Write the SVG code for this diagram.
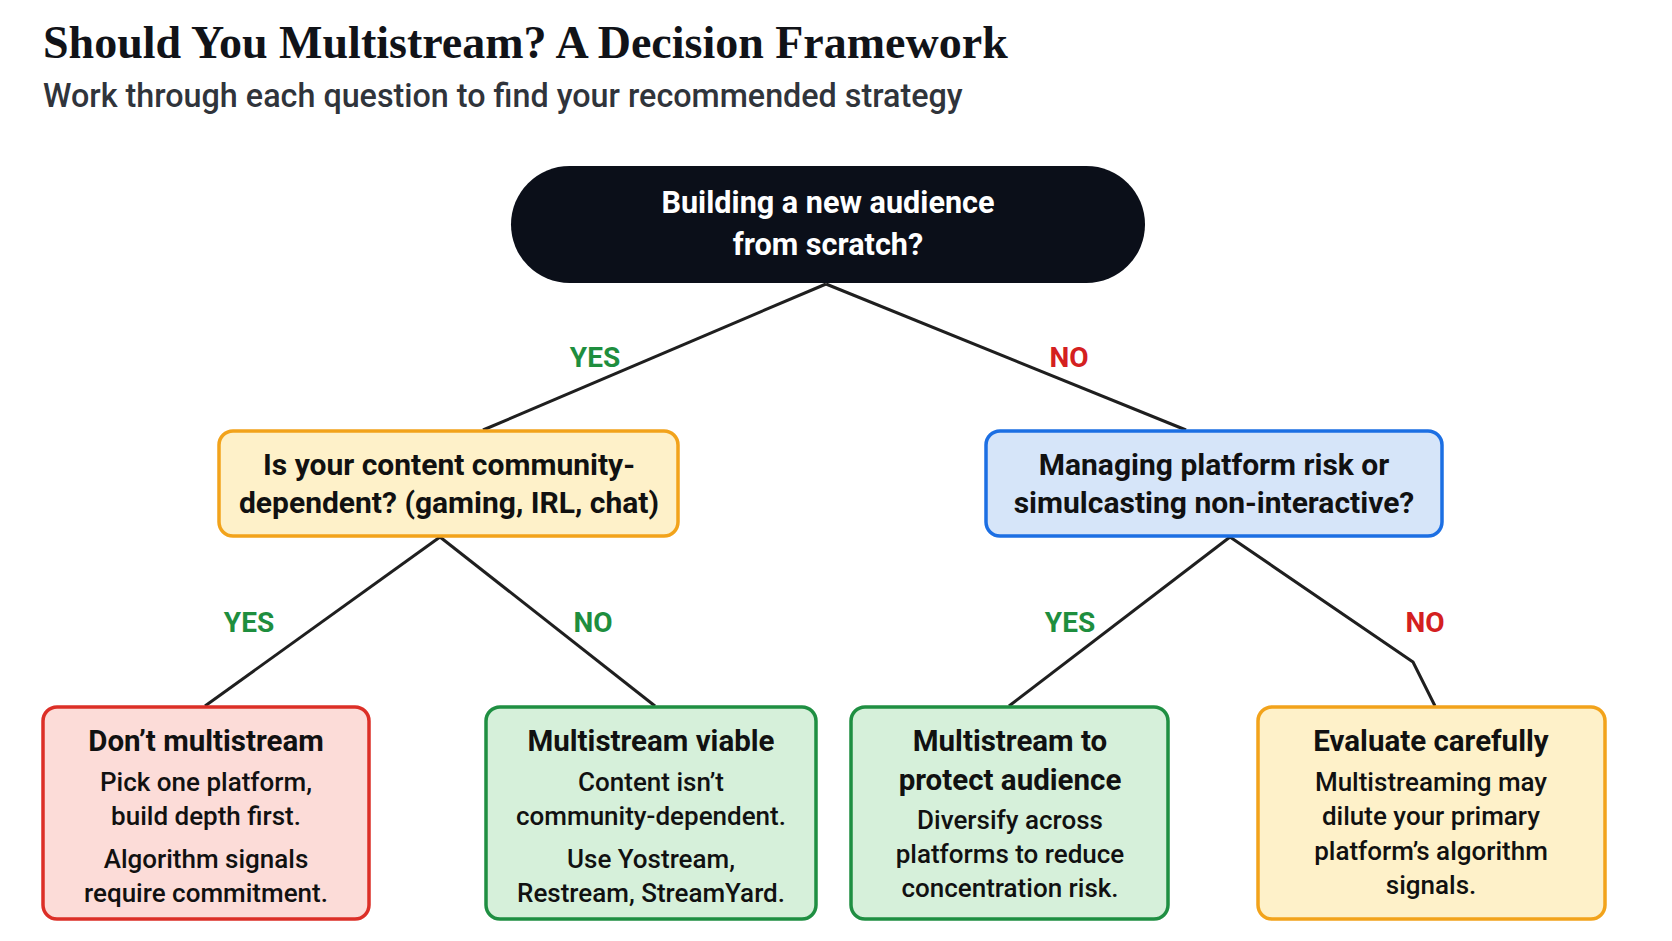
<svg xmlns="http://www.w3.org/2000/svg" width="1672" height="941" viewBox="0 0 1672 941">
  <style>
    .title { font-family: "Liberation Serif", "DejaVu Serif", serif; font-weight: 700; font-size: 46px; fill: #111318; }
    .subtitle { font-family: Roboto, "Liberation Sans", sans-serif; font-weight: 500; font-size: 32.3px; fill: #30343b; }
    .q { font-family: Roboto, "Liberation Sans", sans-serif; font-weight: 700; font-size: 30px; text-anchor: middle; }
    .qr { font-family: Roboto, "Liberation Sans", sans-serif; font-weight: 700; font-size: 30.6px; text-anchor: middle; fill: #ffffff; }
    .lt { font-family: Roboto, "Liberation Sans", sans-serif; font-weight: 700; font-size: 29.5px; text-anchor: middle; fill: #111; }
    .lb { font-family: Roboto, "Liberation Sans", sans-serif; font-weight: 500; font-size: 26px; text-anchor: middle; fill: #111; }
    .edge { fill: none; stroke: #1f1f1f; stroke-width: 3; stroke-linejoin: round; }
    .yes { font-family: Roboto, "Liberation Sans", sans-serif; font-weight: 700; font-size: 28px; fill: #1e8e3e; text-anchor: middle; }
    .no { font-family: Roboto, "Liberation Sans", sans-serif; font-weight: 700; font-size: 28px; fill: #d42020; text-anchor: middle; }
    .red { fill: #fcdcd8; stroke: #dc2f27; stroke-width: 3.5; }
    .green { fill: #d6f0da; stroke: #1f8f42; stroke-width: 3.5; }
    .yellow { fill: #fef1c9; stroke: #f2a31b; stroke-width: 3.5; }
    .blue { fill: #d6e5f9; stroke: #1c6fe3; stroke-width: 3.5; }
  </style>
  <rect x="0" y="0" width="1672" height="941" fill="#ffffff"/>

  <text class="title" x="43" y="58">Should You Multistream? A Decision Framework</text>
  <text class="subtitle" x="43" y="107">Work through each question to find your recommended strategy</text>

  <g id="connectors">
    <path class="edge" d="M826,284 L483,430"/>
    <path class="edge" d="M826,284 L1186,430"/>
    <path class="edge" d="M440,537 L205,706"/>
    <path class="edge" d="M440,537 L655,706"/>
    <path class="edge" d="M1230,537 L1413,662 L1435,706"/>
    <path class="edge" d="M1230,537 L1009,706"/>
    <text class="yes" x="595" y="367">YES</text>
    <text class="no" x="1069" y="367">NO</text>
    <text class="yes" x="249" y="632">YES</text>
    <text class="yes" x="593" y="632">NO</text>
    <text class="yes" x="1070" y="632">YES</text>
    <text class="no" x="1425" y="632">NO</text>
  </g>

  <g id="root">
    <rect x="511" y="166" width="634" height="117" rx="58.5" fill="#0b0f19"/>
    <text class="qr" x="828" y="213">Building a new audience</text>
    <text class="qr" x="828" y="255">from scratch?</text>
  </g>

  <g id="q-community">
    <rect class="yellow" x="219" y="431" width="459" height="105" rx="14"/>
    <text class="q" x="449" y="475" fill="#111">Is your content community-</text>
    <text class="q" x="449" y="513" fill="#111">dependent? (gaming, IRL, chat)</text>
  </g>

  <g id="q-risk">
    <rect class="blue" x="986" y="431" width="456" height="105" rx="14"/>
    <text class="q" x="1214" y="475" fill="#111">Managing platform risk or</text>
    <text class="q" x="1214" y="513" fill="#111">simulcasting non-interactive?</text>
  </g>

  <g id="leaf-dont">
    <rect class="red" x="43" y="707" width="326" height="212" rx="14"/>
    <text class="lt" x="206" y="751">Don’t multistream</text>
    <text class="lb" x="206" y="791">Pick one platform,</text>
    <text class="lb" x="206" y="825">build depth first.</text>
    <text class="lb" x="206" y="868">Algorithm signals</text>
    <text class="lb" x="206" y="902">require commitment.</text>
  </g>

  <g id="leaf-viable">
    <rect class="green" x="486" y="707" width="330" height="212" rx="14"/>
    <text class="lt" x="651" y="751">Multistream viable</text>
    <text class="lb" x="651" y="791">Content isn’t</text>
    <text class="lb" x="651" y="825">community-dependent.</text>
    <text class="lb" x="651" y="868">Use Yostream,</text>
    <text class="lb" x="651" y="902">Restream, StreamYard.</text>
  </g>

  <g id="leaf-protect">
    <rect class="green" x="851" y="707" width="317" height="212" rx="14"/>
    <text class="lt" x="1010" y="751">Multistream to</text>
    <text class="lt" x="1010" y="790">protect audience</text>
    <text class="lb" x="1010" y="829">Diversify across</text>
    <text class="lb" x="1010" y="863">platforms to reduce</text>
    <text class="lb" x="1010" y="897">concentration risk.</text>
  </g>

  <g id="leaf-evaluate">
    <rect class="yellow" x="1258" y="707" width="347" height="212" rx="14"/>
    <text class="lt" x="1431" y="751">Evaluate carefully</text>
    <text class="lb" x="1431" y="791">Multistreaming may</text>
    <text class="lb" x="1431" y="825">dilute your primary</text>
    <text class="lb" x="1431" y="860">platform’s algorithm</text>
    <text class="lb" x="1431" y="894">signals.</text>
  </g>
</svg>
